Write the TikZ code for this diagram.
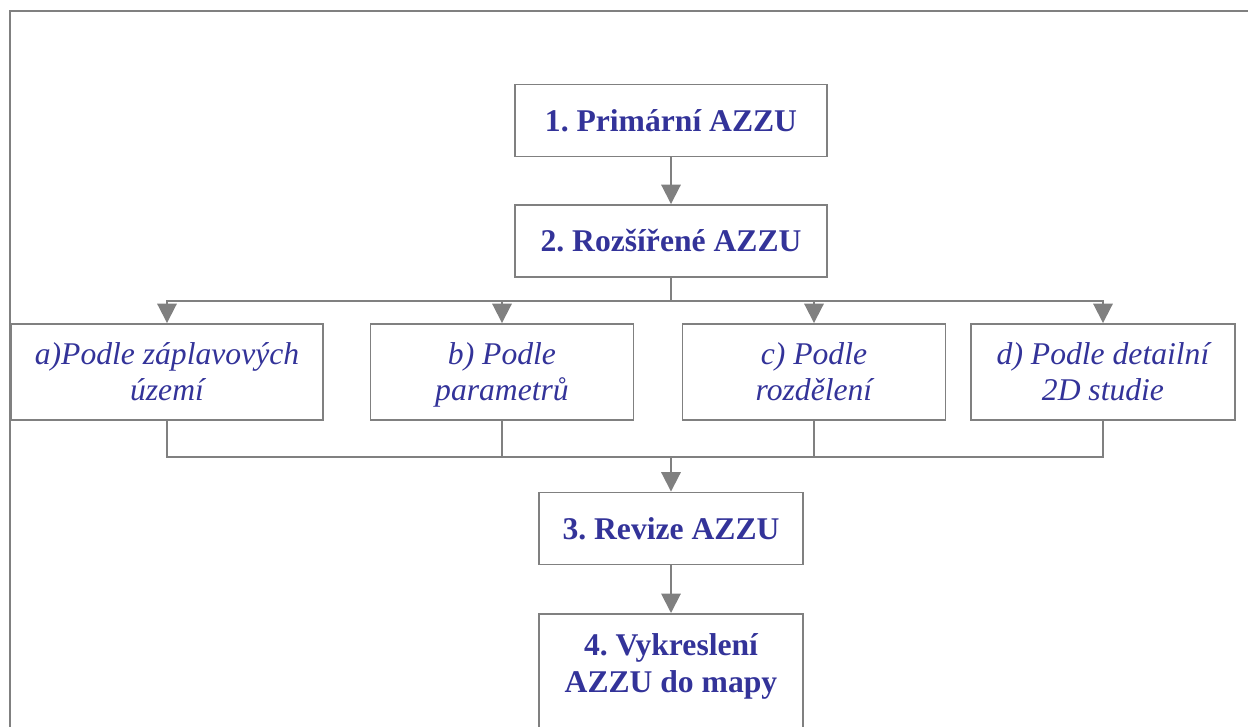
\documentclass[tikz,border=0pt]{standalone}
\usepackage{fontspec}
\setmainfont{Liberation Serif}
\usetikzlibrary{arrows.meta}
\definecolor{azzublue}{RGB}{51,51,153}
\definecolor{linegray}{RGB}{128,128,128}
\frenchspacing
\newcommand{\linestrut}{\rule[-4.5pt]{0pt}{21pt}}
\newcommand{\subtext}[2]{\linestrut#1\\#2\linestrut}

\begin{document}
\begin{tikzpicture}[x=0.02cm, y=-0.02cm,
  mainbox/.style={draw=linegray, line width=1.1pt, text=azzublue, align=center,
    font=\fontsize{18}{21}\selectfont\bfseries, minimum height=1.44cm, inner sep=0pt},
  subbox/.style={draw=linegray, line width=1.1pt, text=azzublue, align=center,
    font=\fontsize{18}{21}\selectfont\itshape, minimum height=1.92cm, inner sep=0pt},
  conn/.style={draw=linegray, line width=1.1pt},
  arr/.style={conn, -{Triangle[width=11pt, length=11pt]}}]
  \useasboundingbox (0,0) rectangle (1248,727);
  % frame
  \draw[conn] (10,727) -- (10,11) -- (1248,11);
  \node[mainbox, minimum width=6.24cm] (prim) at (671,120.5) {1. Primární AZZU};
  \node[mainbox, minimum width=6.24cm] (ext) at (671,241) {2. Rozšířené AZZU};
  \node[subbox, minimum width=6.24cm] (flood) at (167,372) {\subtext{a)Podle záplavových}{území}};
  \node[subbox, minimum width=5.26cm] (param) at (502,372) {\subtext{b) Podle}{parametrů}};
  \node[subbox, minimum width=5.26cm] (divide) at (814,372) {\subtext{c) Podle}{rozdělení}};
  \node[subbox, minimum width=5.28cm] (detail) at (1103,372) {\subtext{d) Podle detailní}{2D studie}};
  \node[mainbox, minimum width=5.28cm] (rev) at (671,528.5) {3. Revize AZZU};
  \node[mainbox, minimum width=5.28cm, anchor=north, inner ysep=11pt, text depth=3cm]
    (mapa) at (671,613) {4. Vykreslení\\AZZU do mapy};
  \coordinate (split) at (671,301);
  \coordinate (join) at (671,457);
  \draw[arr] (prim.south) -- (ext.north);
  \draw[conn] (ext.south) -- (split);
  \foreach \n in {flood,param,divide,detail}
    \draw[arr] (split) -| (\n.north);
  \foreach \n in {flood,param,divide,detail}
    \draw[conn] (\n.south) |- (join);
  \draw[arr] (join) -- (rev.north);
  \draw[arr] (rev.south) -- (mapa.north);
\end{tikzpicture}
\end{document}
